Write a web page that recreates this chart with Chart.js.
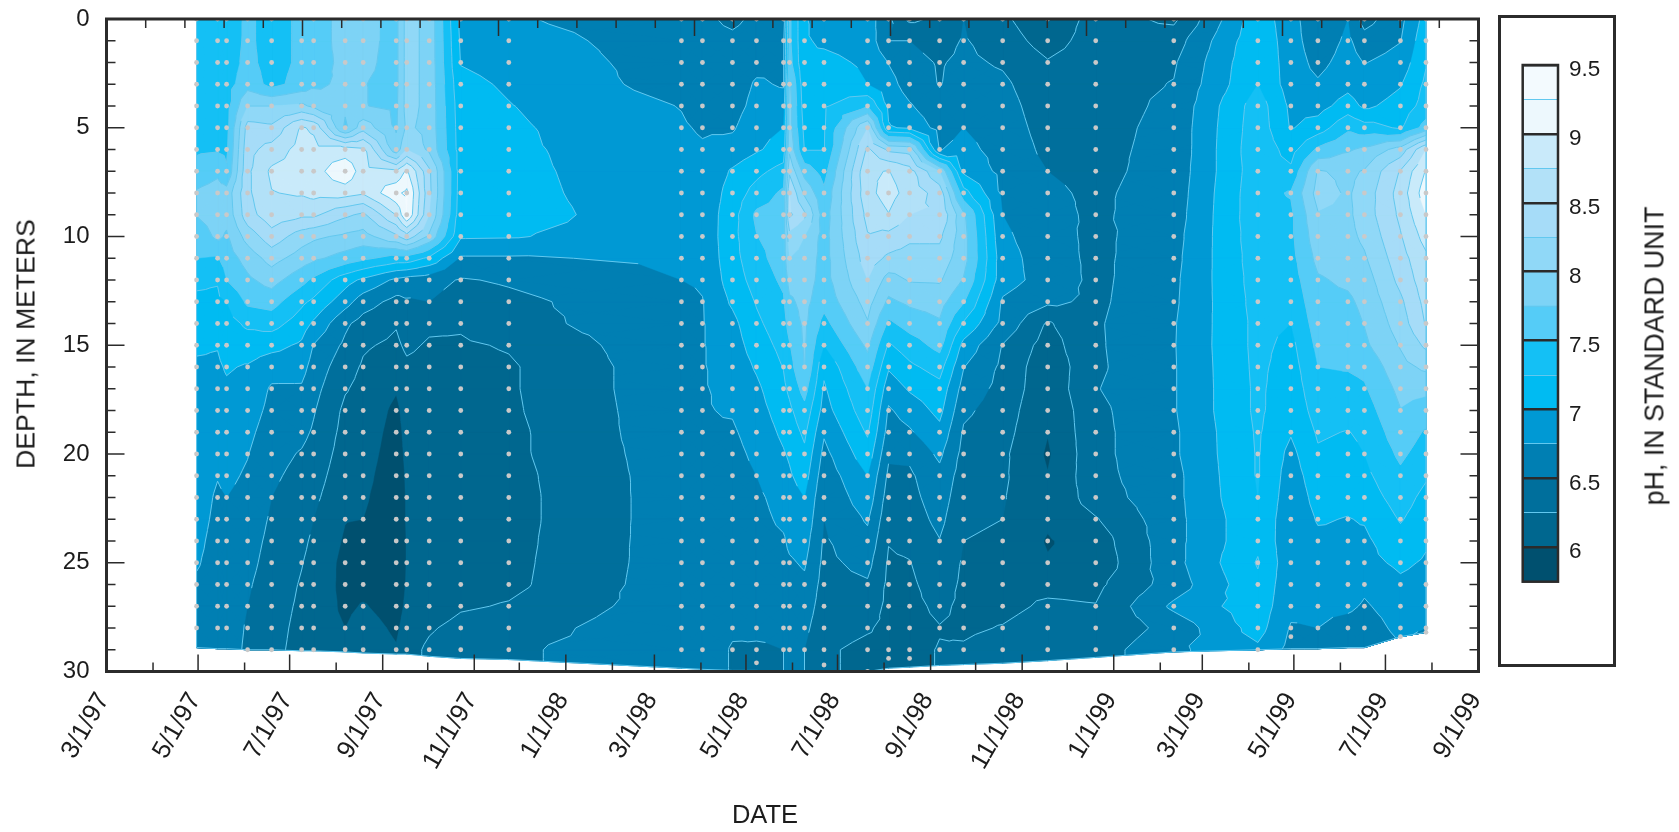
<!DOCTYPE html>
<html>
<head>
<meta charset="utf-8">
<title>pH by depth and date</title>
<script src="https://cdn.jsdelivr.net/npm/chart.js@4"></script>
<style>
  html, body { margin: 0; background: #fff; }
  body { width: 1679px; height: 832px; position: relative; overflow: hidden; font-family: "Liberation Sans", sans-serif; color: #1c1c1c; }
  canvas { position: absolute; }
  #main { left: 0; top: 0; }
  #bar { left: 1505px; top: 20px; }
  #barBox { position: absolute; left: 1498px; top: 15px; width: 112px; height: 646px; border: 3px solid #2b2b2b; }
  .title { position: absolute; white-space: nowrap; transform: translate(-50%, -50%); }
  #depthTitle { left: 26px; top: 344px; font-size: 26.6px; transform: translate(-50%, -50%) rotate(-90deg); }
  #dateTitle { left: 765px; top: 814px; font-size: 25.5px; }
  #phTitle { left: 1655px; top: 356px; font-size: 26.8px; transform: translate(-50%, -50%) rotate(-90deg); }
</style>
</head>
<body>
<canvas id="main" width="1679" height="832"></canvas>
<div id="barBox"></div>
<canvas id="bar" width="105" height="635"></canvas>
<div class="title" id="depthTitle">DEPTH, IN METERS</div>
<div class="title" id="dateTitle">DATE</div>
<div class="title" id="phTitle">pH, IN STANDARD UNIT</div>
<script>
const sampleDates = ["4/30/97", "5/14/97", "5/20/97", "6/3/97", "6/19/97", "7/9/97", "7/17/97", "8/7/97", "8/19/97", "9/10/97",
  "9/17/97", "10/2/97", "10/23/97", "11/24/97", "3/19/98", "4/2/98", "4/22/98", "5/8/98", "5/26/98", "5/30/98",
  "6/9/98", "6/22/98", "7/21/98", "8/4/98", "8/18/98", "9/7/98", "9/23/98", "10/19/98", "11/18/98", "12/20/98",
  "2/10/99", "4/7/99", "4/29/99", "5/17/99", "6/6/99", "6/17/99", "7/11/99", "7/28/99"];

// deepest sounding on each date, meters
const bottomDepths = [28.9, 28.95, 28.95, 29, 29, 29.05, 29.05, 29.1, 29.15, 29.2,
  29.2, 29.3, 29.4, 29.45, 29.85, 29.9, 29.95, 29.95, 30, 30,
  30, 30, 30, 29.85, 29.8, 29.72, 29.68, 29.62, 29.5, 29.35,
  29.1, 29, 28.95, 28.95, 28.9, 28.9, 28.4, 28.2];

const extraDates = ["5/8/98", "6/22/98", "7/21/98", "8/4/98", "8/18/98", "4/29/99", "7/11/99", "7/28/99"];
const extraDepths = [29.6, 29.7, 30, 29.4, 29.4, 28.4, 28.4, 28.2];

// pH at 0, 1, 2 ... 29 m, one list per sample date
const phProfiles = [
  [7.35,7.35,7.36,7.37,7.38,7.4,7.46,7.6,7.78,7.76,7.6,7.5,7.3,7.2,7.1,7.03,6.97,6.95,6.93,6.91,6.89,6.87,6.85,6.83,6.8,6.77,6.72,6.68,6.66,6.65],
  [7.35,7.38,7.4,7.4,7.4,7.42,7.48,7.7,7.85,7.85,7.8,7.48,7.27,7.2,7.1,7.01,6.97,6.94,6.9,6.87,6.83,6.76,6.72,6.7,6.68,6.67,6.66,6.65,6.64,6.63],
  [7.35,7.37,7.38,7.4,7.4,7.42,7.45,7.53,7.85,7.82,7.72,7.62,7.5,7.25,7.15,7.08,7.02,6.97,6.93,6.88,6.84,6.8,6.75,6.71,6.69,6.67,6.66,6.65,6.64,6.63],
  [7.55,7.55,7.57,7.65,8.0,8.35,8.42,8.45,8.45,8.4,8.1,7.85,7.7,7.55,7.3,7.12,6.98,6.93,6.87,6.81,6.76,6.72,6.68,6.64,6.6,6.57,6.53,6.5,6.47,6.45],
  [7.4,7.4,7.4,7.42,8.0,8.3,8.6,8.8,8.74,8.65,8.4,8.1,7.85,7.6,7.35,7.08,6.85,6.72,6.68,6.63,6.58,6.54,6.5,6.47,6.44,6.41,6.38,6.35,6.33,6.31],
  [7.55,7.55,7.55,7.6,8.05,8.78,8.85,8.85,8.78,8.55,8.12,7.88,7.58,7.3,7.12,6.96,6.84,6.72,6.64,6.56,6.48,6.43,6.39,6.35,6.3,6.26,6.23,6.21,6.19,6.18],
  [7.62,7.62,7.63,7.7,7.95,8.7,8.85,8.88,8.83,8.55,8.05,7.8,7.45,7.2,6.96,6.74,6.65,6.58,6.52,6.47,6.41,6.35,6.3,6.25,6.21,6.18,6.16,6.15,6.14,6.13],
  [7.85,7.85,7.82,7.8,7.78,7.72,8.85,9.22,8.85,8.3,7.95,7.65,7.1,6.85,6.55,6.45,6.35,6.27,6.2,6.17,6.14,6.11,6.07,6.01,5.97,5.93,5.93,5.95,6.0,6.05],
  [7.82,7.82,7.8,7.76,7.76,8.15,8.8,8.85,8.78,8.2,7.9,7.55,6.95,6.62,6.4,6.28,6.22,6.18,6.15,6.12,6.09,6.06,6.03,6.0,5.92,5.9,5.92,6.02,6.1,6.15],
  [7.68,7.68,7.68,7.68,7.7,7.72,7.85,8.78,9.2,8.76,8.2,7.4,6.7,6.42,6.27,6.2,6.12,6.02,5.95,5.92,5.9,5.88,5.87,5.86,5.86,5.86,5.87,5.9,5.96,6.02],
  [8.1,8.1,8.1,8.1,8.1,8.05,8.25,9.05,9.3,9.25,8.4,7.4,6.65,6.47,6.38,6.3,6.2,6.14,6.1,6.07,6.05,6.03,6.02,6.02,6.01,6.01,6.02,6.05,6.1,6.15],
  [7.92,7.92,7.92,7.92,7.92,7.92,7.95,8.3,8.32,8.25,7.95,7.2,6.6,6.5,6.3,6.22,6.16,6.12,6.09,6.07,6.06,6.05,6.05,6.05,6.05,6.05,6.06,6.1,6.22,6.3],
  [6.93,6.96,6.99,7.06,7.1,7.12,7.13,7.13,7.12,7.1,7.03,6.72,6.48,6.38,6.28,6.22,6.18,6.15,6.13,6.12,6.11,6.1,6.1,6.11,6.12,6.13,6.16,6.22,6.33,6.4],
  [6.78,6.86,6.92,6.97,7.01,7.04,7.05,7.06,7.07,7.09,7.02,6.72,6.53,6.44,6.4,6.27,6.22,6.22,6.21,6.19,6.19,6.17,6.16,6.16,6.17,6.18,6.19,6.27,6.38,6.46],
  [6.6,6.62,6.63,6.64,6.74,6.78,6.82,6.84,6.85,6.86,6.86,6.8,6.75,6.68,6.7,6.7,6.68,6.68,6.67,6.67,6.65,6.64,6.64,6.64,6.64,6.64,6.65,6.65,6.69,6.66],
  [6.55,6.58,6.6,6.62,6.65,6.72,6.78,6.8,6.82,6.83,6.82,6.8,6.78,6.74,6.735,6.735,6.735,6.735,6.735,6.73,6.72,6.72,6.71,6.7,6.7,6.7,6.7,6.7,6.7,6.7],
  [6.45,6.55,6.6,6.62,6.65,6.72,6.85,7.03,7.1,7.15,7.17,7.16,7.12,7.04,6.93,6.88,6.84,6.8,6.77,6.72,6.68,6.65,6.62,6.6,6.58,6.57,6.56,6.55,6.55,6.47],
  [6.55,6.6,6.68,6.78,6.83,6.92,6.97,7.18,7.35,7.55,7.49,7.42,7.35,7.27,7.2,7.12,7.03,6.95,6.9,6.85,6.8,6.75,6.7,6.67,6.65,6.63,6.61,6.58,6.53,6.48],
  [6.6,6.7,6.72,6.73,6.85,7.0,7.1,7.35,7.55,7.6,7.62,7.62,7.55,7.47,7.4,7.33,7.26,7.2,7.12,7.05,6.98,6.92,6.85,6.8,6.72,6.68,6.62,6.58,6.53,6.5],
  [7.55,7.55,7.6,7.8,7.85,7.85,7.95,8.2,8.5,8.55,8.15,8.0,7.85,7.7,7.6,7.48,7.4,7.3,7.2,7.12,7.03,6.97,6.9,6.85,6.8,6.72,6.65,6.6,6.55,6.52],
  [7.02,7.02,7.02,7.08,7.12,7.18,7.24,7.65,7.95,8.3,8.0,7.92,7.87,7.83,7.8,7.78,7.76,7.6,7.42,7.3,7.2,7.11,7.0,6.93,6.85,6.78,6.7,6.63,6.56,6.5],
  [6.9,6.97,7.05,7.12,7.22,7.23,7.24,7.4,7.55,7.62,7.65,7.65,7.65,7.58,7.42,7.25,7.05,6.97,6.9,6.78,6.68,6.6,6.54,6.5,6.47,6.44,6.41,6.38,6.34,6.28],
  [6.88,6.92,6.97,7.0,7.48,8.25,8.55,8.72,8.68,8.58,8.48,8.38,8.25,8.1,7.98,7.8,7.65,7.5,7.4,7.28,7.15,7.0,6.9,6.78,6.68,6.58,6.47,6.38,6.27,6.2],
  [6.55,6.5,6.74,6.85,6.95,7.02,8.2,8.76,8.85,8.74,8.42,8.2,7.9,7.7,7.45,7.22,7.03,6.85,6.72,6.65,6.54,6.45,6.38,6.32,6.26,6.22,6.2,6.19,6.2,6.21],
  [6.2,6.5,6.58,6.63,6.78,6.97,8.15,8.6,8.65,8.5,8.3,8.15,8.02,7.8,7.6,7.38,7.2,7.03,6.85,6.72,6.55,6.46,6.42,6.37,6.31,6.24,6.2,6.18,6.17,6.2],
  [6.3,6.4,6.48,6.49,6.55,6.65,6.74,8.0,8.4,8.48,8.3,8.15,8.03,7.85,7.72,7.58,7.35,7.17,7.07,6.93,6.8,6.68,6.63,6.57,6.49,6.43,6.38,6.3,6.24,6.26],
  [6.5,6.52,6.55,6.6,6.65,6.75,6.82,6.95,7.35,7.8,7.85,7.85,7.73,7.52,7.22,6.92,6.76,6.65,6.55,6.47,6.42,6.38,6.33,6.28,6.25,6.22,6.2,6.2,6.22,6.27],
  [6.3,6.38,6.47,6.55,6.6,6.63,6.66,6.68,6.7,6.75,6.8,6.85,6.85,6.72,6.68,6.49,6.45,6.42,6.38,6.34,6.3,6.29,6.27,6.25,6.22,6.2,6.2,6.2,6.26,6.33],
  [6.05,6.14,6.27,6.32,6.36,6.4,6.44,6.5,6.54,6.57,6.6,6.62,6.65,6.55,6.22,6.14,6.07,6.07,6.03,6.01,5.97,6.01,6.03,6.04,5.98,6.02,6.2,6.28,6.34,6.42],
  [6.35,6.37,6.4,6.41,6.4,6.42,6.44,6.44,6.46,6.46,6.44,6.44,6.44,6.45,6.47,6.465,6.456,6.485,6.44,6.43,6.43,6.42,6.375,6.23,6.12,6.08,6.19,6.26,6.29,6.38],
  [6.2,6.38,6.47,6.51,6.55,6.57,6.57,6.59,6.61,6.63,6.66,6.68,6.7,6.71,6.73,6.735,6.73,6.73,6.73,6.71,6.71,6.68,6.68,6.67,6.67,6.67,6.62,6.8,6.6,6.7],
  [7.15,7.2,7.23,7.25,7.38,7.4,7.42,7.4,7.42,7.42,7.4,7.38,7.36,7.34,7.32,7.32,7.31,7.3,7.3,7.28,7.27,7.27,7.25,7.2,7.2,7.27,7.2,7.15,7.1,6.95],
  [6.85,6.86,6.87,6.88,6.95,6.98,7.15,7.3,7.52,7.45,7.45,7.42,7.38,7.32,7.25,7.18,7.13,7.1,7.08,7.02,6.93,6.88,6.85,6.83,6.82,6.82,6.82,6.81,6.73,6.68],
  [6.55,6.6,6.68,6.78,6.9,7.12,7.55,8.02,8.1,7.98,7.9,7.82,7.72,7.67,7.62,7.56,7.5,7.42,7.35,7.28,7.22,7.14,7.08,7.02,6.95,6.9,6.85,6.8,6.75,6.6],
  [6.75,6.8,6.85,6.92,7.12,7.45,7.72,7.95,7.97,7.95,7.93,7.88,7.8,7.7,7.63,7.6,7.52,7.42,7.35,7.24,7.18,7.12,7.06,6.99,6.96,6.93,6.9,6.8,6.65,6.6],
  [6.4,6.6,6.74,6.82,6.95,7.35,7.8,8.02,8.1,8.12,8.05,7.97,7.88,7.82,7.76,7.7,7.56,7.47,7.38,7.3,7.25,7.19,7.12,7.02,6.95,6.92,6.8,6.72,6.62,6.55],
  [6.68,6.74,6.85,6.98,7.1,7.22,8.1,8.52,8.6,8.55,8.48,8.4,8.32,8.2,8.12,8.02,7.92,7.82,7.74,7.65,7.55,7.45,7.36,7.27,7.17,7.05,6.95,6.87,6.82,6.78],
  [7.1,7.18,7.23,7.3,7.35,7.6,8.75,9.02,9.15,9.0,8.85,8.7,8.65,8.58,8.52,8.3,8.05,7.82,7.62,7.47,7.38,7.28,7.18,7.12,7.03,6.97,6.9,6.82,6.75,6.72]
];

const monthTicks = ["3/1/97", "4/1/97", "5/1/97", "6/1/97", "7/1/97", "8/1/97", "9/1/97", "10/1/97", "11/1/97", "12/1/97",
  "1/1/98", "2/1/98", "3/1/98", "4/1/98", "5/1/98", "6/1/98", "7/1/98", "8/1/98", "9/1/98", "10/1/98", "11/1/98", "12/1/98",
  "1/1/99", "2/1/99", "3/1/99", "4/1/99", "5/1/99", "6/1/99", "7/1/99", "8/1/99", "9/1/99"];

const phLevels = [5.75, 6, 6.25, 6.5, 6.75, 7, 7.25, 7.5, 7.75, 8, 8.25, 8.5, 8.75, 9, 9.25, 9.5];
const bandColors = ["#00506f", "#00678f", "#006f9c", "#007fb3", "#0099d4", "#00bbf2", "#14c0f5", "#55ccf7",
  "#7dd3f6", "#90d8f7", "#a6dcf8", "#b2e1f8", "#c9eafa", "#edf8fd", "#f3fafe"];
const barLabels = [6, 6.5, 7, 7.5, 8, 8.5, 9, 9.5];

const INK = "#2b2b2b";
const LINE_COLOR = "#62c8ef";
const FONT = "Liberation Sans";

const dayOf = (date) => {
  const [m, d, y] = date.split("/").map(Number);
  return (Date.UTC(1900 + y, m - 1, d) - Date.UTC(1997, 2, 1)) / 864e5;
};

const sampleDays = sampleDates.map(dayOf);
const LAST_DAY = dayOf("9/1/99");

const dots = [];
sampleDays.forEach((day, c) => {
  phProfiles[c].forEach((ph, depth) => {
    if (depth <= bottomDepths[c]) {
      dots.push({x: day, y: depth});
    }
  });
});
extraDates.forEach((date, i) => dots.push({x: dayOf(date), y: extraDepths[i]}));

// part of a triangle where the value is at or above the level
const clipAbove = (tri, level) => {
  const out = [];
  tri.forEach((a, i) => {
    const b = tri[(i + 1) % tri.length];
    if (a.v >= level) {
      out.push(a);
    }
    if ((a.v >= level) !== (b.v >= level)) {
      const t = (level - a.v) / (b.v - a.v);
      out.push({x: a.x + (b.x - a.x) * t, y: a.y + (b.y - a.y) * t, v: level});
    }
  });
  return out;
};

const contourPlugin = {
  id: "contour",
  beforeDatasetsDraw(chart) {
    const {ctx, scales: {x, y}} = chart;
    const grid = sampleDays.map((day, c) => {
      const px = x.getPixelForValue(day);
      const column = phProfiles[c].map((ph, depth) => ({
        x: px,
        y: y.getPixelForValue(Math.min(depth, bottomDepths[c])),
        v: ph
      }));
      column.push({x: px, y: y.getPixelForValue(bottomDepths[c]), v: phProfiles[c][29]});
      return column;
    });

    const triangles = [];
    for (let c = 0; c < grid.length - 1; c++) {
      for (let r = 0; r < grid[c].length - 1; r++) {
        const a = grid[c][r];
        const b = grid[c + 1][r];
        const e = grid[c + 1][r + 1];
        const d = grid[c][r + 1];
        const mid = {
          x: (a.x + b.x + e.x + d.x) / 4,
          y: (a.y + b.y + e.y + d.y) / 4,
          v: (a.v + b.v + e.v + d.v) / 4
        };
        triangles.push([a, b, mid], [b, e, mid], [e, d, mid], [d, a, mid]);
      }
    }

    const outline = new Path2D();
    grid[0].forEach((p, i) => (i ? outline.lineTo(p.x, p.y) : outline.moveTo(p.x, p.y)));
    grid.forEach((column) => outline.lineTo(column[30].x, column[30].y));
    for (let r = 29; r >= 0; r--) {
      outline.lineTo(grid[grid.length - 1][r].x, grid[grid.length - 1][r].y);
    }

    ctx.save();
    ctx.fillStyle = bandColors[0];
    ctx.fill(outline);

    const lines = new Path2D();
    bandColors.slice(1).forEach((color, i) => {
      const level = phLevels[i + 1];
      const region = new Path2D();
      triangles.forEach((tri) => {
        const piece = clipAbove(tri, level);
        if (piece.length > 2) {
          piece.forEach((p, n) => (n ? region.lineTo(p.x, p.y) : region.moveTo(p.x, p.y)));
          region.closePath();
        }
        if (level > 6) {
          const cut = piece.filter((p) => p.v === level);
          if (cut.length === 2) {
            lines.moveTo(cut[0].x, cut[0].y);
            lines.lineTo(cut[1].x, cut[1].y);
          }
        }
      });
      ctx.fillStyle = color;
      ctx.strokeStyle = color;
      ctx.lineWidth = 0.4;
      ctx.fill(region);
      ctx.stroke(region);
    });

    ctx.strokeStyle = LINE_COLOR;
    ctx.lineWidth = 1;
    ctx.stroke(lines);
    ctx.stroke(outline);
    ctx.restore();
  }
};

const framePlugin = {
  id: "frame",
  afterDatasetsDraw(chart) {
    const {ctx, chartArea: area, scales} = chart;
    const line = (x1, y1, x2, y2) => {
      ctx.moveTo(x1, y1);
      ctx.lineTo(x2, y2);
    };
    ctx.save();
    ctx.strokeStyle = INK;
    ctx.lineWidth = 1.5;
    ctx.beginPath();
    scales.x.ticks.forEach((tick, i) => {
      const px = scales.x.getPixelForValue(tick.value);
      line(px, area.bottom, px, area.bottom - (i % 2 ? 9 : 17));
    });
    scales.xTop.ticks.forEach((tick) => {
      const px = scales.xTop.getPixelForValue(tick.value);
      line(px, area.top, px, area.top + (tick.value % 5 ? 9 : 17));
    });
    scales.y.ticks.forEach((tick) => {
      const py = scales.y.getPixelForValue(tick.value);
      const len = tick.value % 5 ? 9 : 18;
      line(area.left, py, area.left + len, py);
      line(area.right, py, area.right - len, py);
    });
    ctx.stroke();
    ctx.lineWidth = 3;
    ctx.strokeRect(area.left, area.top, area.right - area.left, area.bottom - area.top);
    ctx.restore();
  }
};

// no room kept for labels that hang over the plot corners
const noOverhang = (scale) => {
  scale.paddingTop = 0;
  scale.paddingBottom = 0;
  scale.paddingLeft = 0;
  scale.paddingRight = 0;
};

new Chart(document.getElementById("main"), {
  type: "scatter",
  data: {
    datasets: [{
      data: dots,
      pointRadius: 2.4,
      pointBackgroundColor: "#c9c9c9",
      pointBorderWidth: 0,
      showLine: false
    }]
  },
  options: {
    responsive: false,
    animation: false,
    devicePixelRatio: 1,
    events: [],
    layout: {autoPadding: false, padding: {left: 0, right: 200.5, top: 19, bottom: 0}},
    plugins: {legend: {display: false}, tooltip: {enabled: false}},
    scales: {
      x: {
        type: "linear",
        position: "bottom",
        min: 0,
        max: LAST_DAY,
        afterBuildTicks(scale) {
          scale.ticks = monthTicks.map((date) => ({value: dayOf(date)}));
        },
        afterFit(scale) {
          scale.height = 160.5;
          noOverhang(scale);
        },
        grid: {display: false},
        border: {display: false},
        ticks: {
          autoSkip: false,
          minRotation: 60,
          maxRotation: 60,
          padding: 8,
          labelOffset: -3,
          color: "#1c1c1c",
          font: {family: FONT, size: 25.5},
          callback: (value, i) => (i % 2 ? "" : monthTicks[i])
        }
      },
      xTop: {
        type: "linear",
        position: "top",
        min: 0,
        max: 35,
        afterFit(scale) {
          scale.height = 0;
          noOverhang(scale);
        },
        grid: {display: false},
        border: {display: false},
        ticks: {stepSize: 1, display: false}
      },
      y: {
        type: "linear",
        reverse: true,
        min: 0,
        max: 30,
        afterFit(scale) {
          scale.width = 106.5;
          noOverhang(scale);
        },
        grid: {display: false},
        border: {display: false},
        ticks: {
          stepSize: 1,
          autoSkip: false,
          padding: 9,
          color: "#1c1c1c",
          font: {family: FONT, size: 24},
          callback: (value) => (value % 5 ? "" : value)
        }
      }
    }
  },
  plugins: [contourPlugin, framePlugin]
});

const barFrame = {
  id: "barFrame",
  afterDraw(chart) {
    const {ctx, chartArea: area} = chart;
    ctx.save();
    ctx.strokeStyle = INK;
    ctx.lineWidth = 2.5;
    ctx.strokeRect(area.left, area.top, area.right - area.left, area.bottom - area.top);
    ctx.restore();
  }
};

new Chart(document.getElementById("bar"), {
  type: "bar",
  data: {
    labels: ["pH"],
    datasets: bandColors.map((color, i) => ({
      data: [[phLevels[i], phLevels[i + 1]]],
      backgroundColor: color,
      barPercentage: 1,
      categoryPercentage: 1,
      yAxisID: "y"
    }))
  },
  options: {
    responsive: false,
    animation: false,
    devicePixelRatio: 1,
    events: [],
    layout: {autoPadding: false, padding: {left: 17.7, right: 0, top: 45, bottom: 73.3}},
    plugins: {legend: {display: false}, tooltip: {enabled: false}},
    scales: {
      x: {stacked: true, display: false},
      y: {
        position: "right",
        min: 5.75,
        max: 9.5,
        afterFit(scale) {
          scale.width = 0;
        },
        border: {display: false},
        grid: {
          z: 1,
          drawTicks: false,
          color: (ctx) => (Number.isInteger(ctx.tick.value * 2) ? INK : LINE_COLOR),
          lineWidth: (ctx) => (Number.isInteger(ctx.tick.value * 2) ? 2.5 : 1)
        },
        ticks: {display: false, stepSize: 0.25}
      },
      yLabels: {
        position: "right",
        min: 5.786,
        max: 9.536,
        afterBuildTicks(scale) {
          scale.ticks = barLabels.map((value) => ({value}));
        },
        afterFit(scale) {
          scale.width = 52;
        },
        border: {display: false},
        grid: {display: false},
        ticks: {
          autoSkip: false,
          padding: 3,
          color: "#1c1c1c",
          font: {family: FONT, size: 22.5},
          callback: (value) => value
        }
      }
    }
  },
  plugins: [barFrame]
});
</script>
</body>
</html>
